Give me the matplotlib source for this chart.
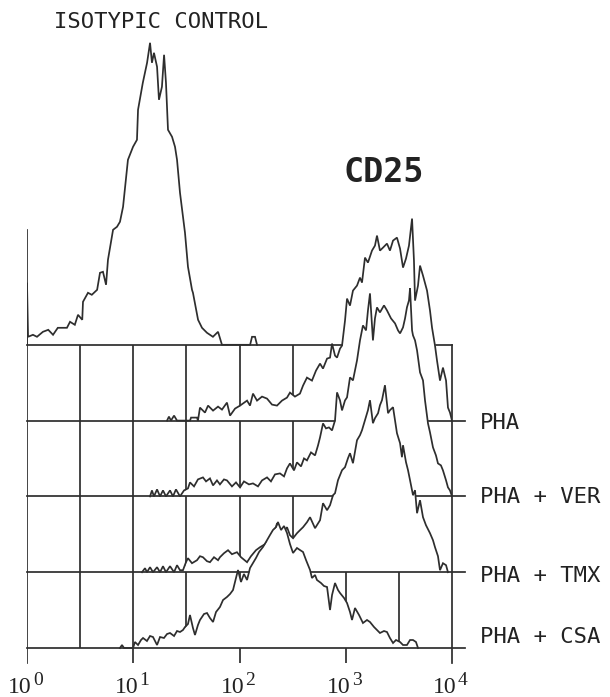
import numpy as np
import matplotlib
matplotlib.use('Agg')
import matplotlib.pyplot as plt

INK = '#2e2e2e'
LW = 1.25
MONO = 'DejaVu Sans Mono'
SERIF = 'Liberation Serif'

# (log10 fluorescence, cell count)
iso_hist = [(0.0, 0), (0.0, 62), (0.01, 8), (0.056, 10), (0.094, 8), (0.15, 13), (0.20, 15),
            (0.245, 10), (0.29, 17), (0.376, 17), (0.405, 23), (0.45, 20), (0.48, 30), (0.52, 25),
            (0.527, 43), (0.574, 52), (0.61, 50), (0.66, 55), (0.687, 72), (0.715, 73), (0.744, 60),
            (0.762, 85), (0.81, 115), (0.847, 118), (0.875, 123), (0.904, 138), (0.95, 185),
            (0.998, 198), (1.035, 205), (1.045, 235), (1.09, 262), (1.13, 282), (1.158, 302),
            (1.176, 282), (1.195, 292), (1.224, 278), (1.242, 245), (1.27, 258), (1.29, 290),
            (1.308, 262), (1.327, 215), (1.365, 208), (1.393, 198), (1.412, 185), (1.44, 152),
            (1.487, 112), (1.515, 78), (1.553, 55), (1.562, 52), (1.61, 25), (1.647, 17),
            (1.694, 12), (1.75, 8), (1.798, 13), (1.835, 0), (2.10, 0), (2.118, 8), (2.146, 8),
            (2.165, 0)]

pha_hist = [(1.318, 0), (1.336, 4), (1.355, 0), (1.384, 5), (1.412, 0), (1.534, 0), (1.544, 3),
            (1.60, 3), (1.609, 0), (1.628, 13), (1.675, 8), (1.704, 15), (1.751, 10), (1.798, 14),
            (1.835, 11), (1.882, 18), (1.911, 5), (1.958, 12), (2.005, 15), (2.071, 20), (2.099, 15),
            (2.127, 27), (2.165, 20), (2.212, 24), (2.259, 22), (2.306, 16), (2.353, 15), (2.40, 20),
            (2.447, 23), (2.475, 28), (2.522, 24), (2.569, 27), (2.598, 35), (2.635, 43), (2.682, 40),
            (2.72, 50), (2.758, 57), (2.786, 52), (2.824, 62), (2.852, 63), (2.871, 77), (2.899, 65),
            (2.918, 63), (2.946, 72), (2.965, 75), (2.993, 100), (3.012, 122), (3.04, 115),
            (3.068, 130), (3.106, 135), (3.134, 143), (3.153, 138), (3.181, 163), (3.209, 158),
            (3.247, 170), (3.275, 175), (3.294, 185), (3.322, 170), (3.351, 173), (3.388, 177),
            (3.416, 170), (3.445, 180), (3.482, 183), (3.511, 172), (3.539, 153), (3.567, 162),
            (3.595, 175), (3.624, 202), (3.642, 160), (3.652, 120), (3.68, 135), (3.699, 155),
            (3.727, 145), (3.765, 130), (3.793, 110), (3.812, 93), (3.84, 75), (3.859, 60),
            (3.887, 40), (3.915, 53), (3.944, 40), (3.962, 13), (3.981, 8), (4.0, 0)]

ver_hist = [(1.158, 0), (1.176, 6), (1.195, 0), (1.224, 7), (1.252, 0), (1.28, 6), (1.308, 0),
            (1.346, 6), (1.374, 0), (1.402, 7), (1.44, 0), (1.478, 6), (1.515, 8), (1.534, 14),
            (1.572, 10), (1.609, 17), (1.656, 19), (1.685, 15), (1.722, 18), (1.751, 11), (1.788, 16),
            (1.816, 12), (1.854, 17), (1.882, 16), (1.929, 10), (1.967, 14), (2.005, 9), (2.042, 15),
            (2.089, 12), (2.127, 13), (2.174, 10), (2.212, 16), (2.259, 19), (2.296, 15), (2.334, 22),
            (2.381, 23), (2.419, 20), (2.447, 28), (2.475, 33), (2.513, 26), (2.541, 34), (2.579, 30),
            (2.607, 38), (2.635, 36), (2.673, 44), (2.711, 41), (2.739, 51), (2.758, 59), (2.786, 73),
            (2.814, 68), (2.842, 69), (2.871, 66), (2.899, 76), (2.918, 104), (2.946, 96),
            (2.965, 86), (2.993, 96), (3.012, 99), (3.04, 119), (3.068, 116), (3.106, 136),
            (3.134, 156), (3.162, 171), (3.191, 166), (3.209, 186), (3.228, 203), (3.256, 156),
            (3.275, 178), (3.294, 189), (3.322, 184), (3.36, 191), (3.388, 186), (3.426, 178),
            (3.464, 173), (3.492, 166), (3.511, 163), (3.539, 169), (3.558, 178), (3.576, 189),
            (3.595, 196), (3.605, 208), (3.624, 166), (3.633, 161), (3.652, 156), (3.671, 146),
            (3.699, 124), (3.727, 116), (3.746, 96), (3.774, 73), (3.793, 64), (3.821, 49),
            (3.849, 41), (3.868, 33), (3.896, 31), (3.915, 26), (3.944, 16), (3.962, 9), (3.981, 6),
            (4.0, 0)]

tmx_hist = [(1.082, 0), (1.111, 4), (1.129, 0), (1.158, 5), (1.186, 0), (1.224, 5), (1.252, 0),
            (1.28, 6), (1.308, 0), (1.346, 6), (1.384, 0), (1.412, 7), (1.44, 2), (1.468, 2),
            (1.496, 10), (1.515, 14), (1.553, 9), (1.60, 12), (1.628, 16), (1.656, 15), (1.694, 11),
            (1.722, 10), (1.76, 15), (1.798, 12), (1.816, 15), (1.854, 19), (1.892, 22), (1.929, 18),
            (1.976, 20), (2.014, 15), (2.071, 10), (2.108, 16), (2.155, 22), (2.193, 25), (2.24, 28),
            (2.287, 32), (2.325, 37), (2.353, 49), (2.381, 42), (2.409, 39), (2.447, 45), (2.475, 37),
            (2.504, 34), (2.541, 39), (2.569, 42), (2.598, 45), (2.635, 50), (2.664, 55), (2.711, 44),
            (2.758, 52), (2.786, 69), (2.824, 62), (2.852, 67), (2.88, 77), (2.899, 79), (2.927, 92),
            (2.965, 102), (2.993, 105), (3.021, 114), (3.04, 119), (3.068, 109), (3.106, 132),
            (3.134, 137), (3.153, 142), (3.181, 152), (3.209, 162), (3.228, 172), (3.256, 149),
            (3.275, 154), (3.304, 159), (3.322, 167), (3.341, 172), (3.369, 187), (3.398, 159),
            (3.416, 162), (3.445, 165), (3.482, 139), (3.511, 129), (3.529, 115), (3.539, 127),
            (3.567, 110), (3.586, 102), (3.605, 92), (3.633, 77), (3.652, 82), (3.671, 59),
            (3.699, 72), (3.727, 55), (3.755, 47), (3.793, 39), (3.821, 32), (3.84, 25), (3.868, 16),
            (3.887, 2), (3.915, 9), (3.944, 7), (3.962, 0)]

csa_hist = [(0.875, 0), (0.894, 3), (0.913, 0), (0.998, 0), (1.016, 6), (1.045, 3), (1.073, 8),
            (1.092, 10), (1.129, 7), (1.158, 12), (1.186, 11), (1.224, 3), (1.252, 11), (1.289, 10),
            (1.318, 14), (1.346, 15), (1.384, 12), (1.412, 17), (1.44, 16), (1.468, 18), (1.487, 21),
            (1.515, 24), (1.534, 33), (1.562, 20), (1.581, 13), (1.609, 23), (1.628, 28), (1.666, 34),
            (1.694, 35), (1.722, 30), (1.751, 26), (1.779, 36), (1.816, 41), (1.845, 48), (1.882, 51),
            (1.911, 54), (1.939, 58), (1.967, 70), (1.986, 78), (2.014, 66), (2.042, 74), (2.071, 68),
            (2.099, 80), (2.127, 85), (2.155, 90), (2.184, 96), (2.221, 101), (2.249, 106),
            (2.287, 113), (2.315, 118), (2.344, 121), (2.362, 126), (2.391, 118), (2.419, 122),
            (2.447, 115), (2.475, 104), (2.504, 95), (2.541, 100), (2.569, 98), (2.598, 96),
            (2.626, 88), (2.664, 78), (2.682, 70), (2.711, 73), (2.729, 68), (2.767, 65), (2.795, 62),
            (2.824, 61), (2.852, 38), (2.871, 53), (2.899, 65), (2.927, 58), (2.946, 55), (2.984, 50),
            (3.012, 45), (3.04, 36), (3.059, 28), (3.087, 40), (3.125, 33), (3.162, 25), (3.2, 28),
            (3.228, 26), (3.266, 21), (3.294, 18), (3.322, 15), (3.36, 17), (3.388, 16), (3.416, 10),
            (3.445, 5), (3.473, 8), (3.511, 6), (3.539, 3), (3.576, 3), (3.605, 8), (3.633, 8),
            (3.661, 6), (3.68, 0)]

series = [iso_hist, pha_hist, ver_hist, tmx_hist, csa_hist]
row_labels = ['PHA', 'PHA + VER', 'PHA + TMX', 'PHA + CSA']
decades = [0, 1, 2, 3, 4]
half_decades = [0.5, 1.0, 1.5, 2.0, 2.5, 3.0, 3.5]
row_step = 75.8

fig = plt.figure(figsize=(6.1, 6.97), dpi=100)
ax = fig.add_axes([27 / 610, 0, 425 / 610, 1])
ax.set_xscale('log')
ax.set_xlim(1, 1e4)
ax.set_ylim(-49, 648)
ax.axis('off')

bases = [row_step * k for k in range(len(series) - 1, -1, -1)]
px = 0.72  # points per pixel

for i, (hist, b) in enumerate(zip(series, bases)):
    z = 2 + 3 * i
    lx, cnt = np.array(hist, dtype=float).T
    x = 10 ** lx
    if i > 0:
        # grid cells of this row sit behind its histogram
        ax.vlines(10 ** np.array(half_decades), b, bases[i - 1], color=INK, lw=LW, zorder=z)
    ax.fill_between(x, b, b + cnt, color='white', lw=0, zorder=z + 1)
    ax.plot(x, b + cnt, color=INK, lw=LW, zorder=z + 1.5, solid_joinstyle='miter')
    x_end = 1e4 if i == 0 else 10 ** 4.12
    ax.plot([1, x_end], [b, b], color=INK, lw=LW, zorder=z + 2, clip_on=False)

top_z = 30
ax.plot([1, 1], [-15, 418], color=INK, lw=LW, zorder=top_z)
ax.plot([1e4, 1e4], [-15, bases[0]], color=INK, lw=LW, zorder=top_z, clip_on=False)
ax.vlines([10 ** d for d in decades[1:-1]], -15, 0, color=INK, lw=LW, zorder=top_z)

# decade labels, exponent nearly full size like the plotter output
for d in decades:
    ax.annotate('10', xy=(10 ** d, -45), xytext=(5 * px, 0), textcoords='offset points',
                ha='right', va='baseline', family=SERIF, fontsize=17, color='#222222',
                annotation_clip=False)
    ax.annotate(str(d), xy=(10 ** d, -45), xytext=(6 * px, 8 * px), textcoords='offset points',
                ha='left', va='baseline', family=SERIF, fontsize=14, color='#222222',
                annotation_clip=False)

label_dy = [-8, -7, -10, 5]
for lab, b, dy in zip(row_labels, bases[1:], label_dy):
    ax.annotate(lab, xy=(1e4, b), xytext=(28 * px, dy * px), textcoords='offset points',
                ha='left', va='baseline', family=MONO, fontsize=16, color='#222222',
                annotation_clip=False)

fig.text(161 / 610, 1 - 28 / 697, 'ISOTYPIC CONTROL', ha='center', va='baseline',
         family=MONO, fontsize=16, color='#222222')
fig.text(384 / 610, 1 - 182 / 697, 'CD25', ha='center', va='baseline',
         family=MONO, fontsize=24, fontweight='bold', color='#222222')

fig.savefig('out.png', dpi=100, facecolor='white')
